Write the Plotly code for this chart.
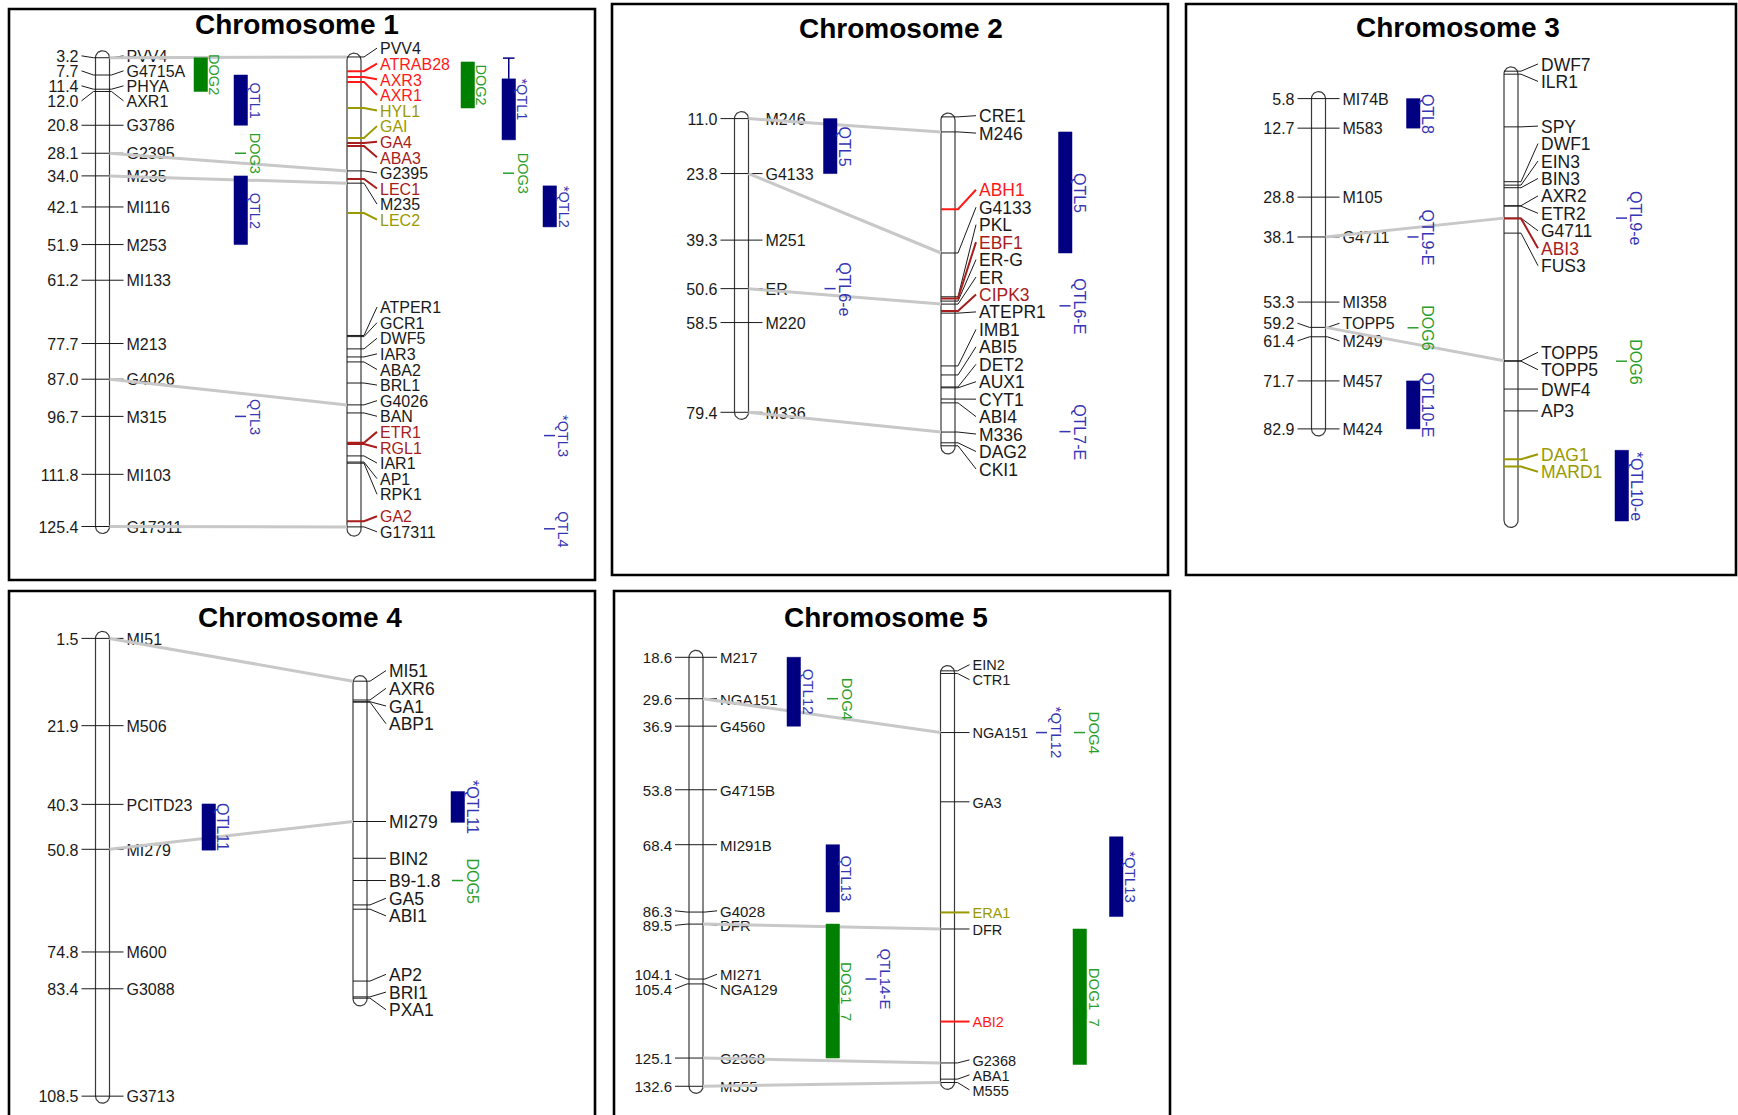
import numpy as np
import plotly.graph_objects as go

FIG_W, FIG_H = 1738, 1115
FONT = "Liberation Sans, Arial, Helvetica, sans-serif"

# ======================================================================
# Chromosome 1
# ======================================================================
CHR1_MAP_NAMES = ["PVV4", "G4715A", "PHYA", "AXR1", "G3786", "G2395", "M235", "MI116",
                  "M253", "MI133", "M213", "G4026", "M315", "MI103", "G17311"]
CHR1_MAP_CM = [3.2, 7.7, 11.4, 12.0, 20.8, 28.1, 34.0, 42.1, 51.9, 61.2, 77.7, 87.0,
               96.7, 111.8, 125.4]
CHR1_GENE_NAMES = ["PVV4", "ATRAB28", "AXR3", "AXR1", "HYL1", "GAI", "GA4", "ABA3",
                   "G2395", "LEC1", "M235", "LEC2", "ATPER1", "GCR1", "DWF5", "IAR3",
                   "ABA2", "BRL1", "G4026", "BAN", "ETR1", "RGL1", "IAR1", "AP1", "RPK1",
                   "GA2", "G17311"]
CHR1_GENE_CM = [3.0, 6.7, 8.2, 9.5, 16.3, 24.1, 25.4, 26.2, 32.7, 34.8, 35.9, 43.7,
                75.6, 75.9, 79.1, 81.2, 82.5, 88.0, 93.7, 95.8, 103.6, 103.9, 107.0,
                108.6, 108.9, 124.0, 125.5]
CHR1_GENE_GROUP = [0, 1, 1, 1, 3, 3, 2, 2, 0, 2, 0, 3, 0, 0, 0, 0, 0, 0, 0, 0, 2, 2,
                   0, 0, 0, 2, 0]
CHR1_GENE_SPAN = [2.0, 127.9]
CHR1_LINKS = [("PVV4", "PVV4"), ("G2395", "G2395"), ("M235", "M235"),
              ("G4026", "G4026"), ("G17311", "G17311")]
CHR1_QTL_L_NAMES = ["DOG2", "QTL1", "DOG3", "QTL2", "QTL3"]
CHR1_QTL_L_FROM = [3.2, 7.7, 28.1, 34.0, 96.7]
CHR1_QTL_L_TO = [12.0, 20.8, 28.1, 51.9, 96.7]
CHR1_QTL_R_NAMES = ["DOG2", "*QTL1", "DOG3", "*QTL2", "*QTL3", "QTL4"]
CHR1_QTL_R_FROM = [4.3, 8.7, 33.3, 36.6, 101.7, 126.0]
CHR1_QTL_R_TO = [16.3, 24.6, 33.3, 47.3, 101.7, 126.0]
CHR1_QTL_R_CI_FROM = [None, 3.3, None, None, None, None]

# ======================================================================
# Chromosome 2
# ======================================================================
CHR2_MAP_NAMES = ["M246", "G4133", "M251", "ER", "M220", "M336"]
CHR2_MAP_CM = [11.0, 23.8, 39.3, 50.6, 58.5, 79.4]
CHR2_GENE_NAMES = ["CRE1", "M246", "ABH1", "G4133", "PKL", "EBF1", "ER-G", "ER", "CIPK3",
                   "ATEPR1", "IMB1", "ABI5", "DET2", "AUX1", "CYT1", "ABI4", "M336",
                   "DAG2", "CKI1"]
CHR2_GENE_CM = [10.6, 14.1, 32.1, 42.3, 52.5, 52.9, 53.5, 54.2, 55.8, 56.3, 68.6, 70.7,
                73.5, 73.7, 76.3, 77.2, 84.0, 86.5, 87.2]
CHR2_GENE_GROUP = [0, 0, 1, 0, 0, 2, 0, 0, 2, 0, 0, 0, 0, 0, 0, 0, 0, 0, 0]
CHR2_GENE_SPAN = [9.7, 89.1]
CHR2_LINKS = [("M246", "M246"), ("G4133", "G4133"), ("ER", "ER"), ("M336", "M336")]
CHR2_QTL_L_NAMES = ["QTL5", "QTL6-e"]
CHR2_QTL_L_FROM = [11.0, 50.6]
CHR2_QTL_L_TO = [23.8, 50.6]
CHR2_QTL_R_NAMES = ["QTL5", "QTL6-E", "QTL7-E"]
CHR2_QTL_R_FROM = [14.1, 54.6, 83.9]
CHR2_QTL_R_TO = [42.3, 54.6, 83.9]

# ======================================================================
# Chromosome 3
# ======================================================================
CHR3_MAP_NAMES = ["MI74B", "M583", "M105", "G4711", "MI358", "TOPP5", "M249", "M457", "M424"]
CHR3_MAP_CM = [5.8, 12.7, 28.8, 38.1, 53.3, 59.2, 61.4, 71.7, 82.9]
CHR3_GENE_NAMES = ["DWF7", "ILR1", "SPY", "DWF1", "EIN3", "BIN3", "AXR2", "ETR2", "G4711",
                   "ABI3", "FUS3", "TOPP5", "TOPP5", "DWF4", "AP3", "DAG1", "MARD1"]
CHR3_GENE_CM = [-0.6, 0.1, 12.4, 25.2, 26.0, 26.6, 30.8, 30.9, 33.7, 33.8, 37.2, 67.0,
                67.1, 73.6, 78.7, 90.0, 91.7]
CHR3_GENE_GROUP = [0, 0, 0, 0, 0, 0, 0, 0, 0, 2, 0, 0, 0, 0, 0, 3, 3]
CHR3_GENE_SPAN = [-1.6, 105.9]
CHR3_LINKS = [("G4711", "G4711"), ("TOPP5", "TOPP5")]
CHR3_QTL_L_NAMES = ["QTL8", "QTL9-E", "DOG6", "QTL10-E"]
CHR3_QTL_L_FROM = [5.8, 38.1, 59.3, 71.7]
CHR3_QTL_L_TO = [12.7, 38.1, 59.3, 82.9]
CHR3_QTL_R_NAMES = ["QTL9-e", "DOG6", "*QTL10-e"]
CHR3_QTL_R_FROM = [33.7, 67.1, 87.9]
CHR3_QTL_R_TO = [33.7, 67.1, 104.4]

# ======================================================================
# Chromosome 4
# ======================================================================
CHR4_MAP_NAMES = ["MI51", "M506", "PCITD23", "MI279", "M600", "G3088", "G3713"]
CHR4_MAP_CM = [1.5, 21.9, 40.3, 50.8, 74.8, 83.4, 108.5]
CHR4_GENE_NAMES = ["MI51", "AXR6", "GA1", "ABP1", "MI279", "BIN2", "B9-1.8", "GA5", "ABI1",
                   "AP2", "BRI1", "PXA1"]
CHR4_GENE_CM = [11.5, 15.9, 16.3, 16.4, 44.3, 52.9, 58.1, 63.8, 64.8, 81.6, 85.3, 85.6]
CHR4_GENE_GROUP = [0] * 12
CHR4_GENE_SPAN = [10.2, 87.4]
CHR4_LINKS = [("MI51", "MI51"), ("MI279", "MI279")]
CHR4_QTL_L_NAMES = ["QTL11"]
CHR4_QTL_L_FROM = [40.2]
CHR4_QTL_L_TO = [51.0]
CHR4_QTL_R_NAMES = ["*QTL11", "DOG5"]
CHR4_QTL_R_FROM = [37.3, 58.1]
CHR4_QTL_R_TO = [44.5, 58.1]

# ======================================================================
# Chromosome 5
# ======================================================================
CHR5_MAP_NAMES = ["M217", "NGA151", "G4560", "G4715B", "MI291B", "G4028", "DFR", "MI271",
                  "NGA129", "G2368", "M555"]
CHR5_MAP_CM = [18.6, 29.6, 36.9, 53.8, 68.4, 86.3, 89.5, 104.1, 105.4, 125.1, 132.6]
CHR5_GENE_NAMES = ["EIN2", "CTR1", "NGA151", "GA3", "ERA1", "DFR", "ABI2", "G2368",
                   "ABA1", "M555"]
CHR5_GENE_CM = [22.2, 22.9, 38.6, 57.0, 86.4, 90.8, 115.4, 126.4, 130.7, 131.6]
CHR5_GENE_GROUP = [0, 0, 0, 0, 3, 0, 1, 0, 0, 0]
CHR5_GENE_SPAN = [20.8, 133.4]
CHR5_LINKS = [("NGA151", "NGA151"), ("DFR", "DFR"), ("G2368", "G2368"), ("M555", "M555")]
CHR5_QTL_L_NAMES = ["QTL12", "DOG4", "QTL13", "DOG1_7", "QTL14-E"]
CHR5_QTL_L_FROM = [18.6, 29.6, 68.4, 89.5, 104.1]
CHR5_QTL_L_TO = [36.9, 29.6, 86.3, 125.1, 104.1]
CHR5_QTL_R_NAMES = ["*QTL12", "DOG4", "*QTL13", "DOG1_7"]
CHR5_QTL_R_FROM = [38.6, 38.6, 66.3, 90.8]
CHR5_QTL_R_TO = [38.6, 38.6, 87.5, 126.8]

# ======================================================================
# styling
# ======================================================================
GROUP_COLOR = {0: "#1a1a1a", 1: "#ff1a1a", 2: "#a81c1c", 3: "#9a9a00"}
GROUP_WIDTH = {0: 1.0, 1: 2.0, 2: 2.0, 3: 2.0}
QTL_BAR = "#000080"
DOG_BAR = "#008000"
QTL_TXT = "#3434b4"
DOG_TXT = "#2a9e2a"
LINK_COLOR = "#c8c8c8"
OUTLINE = "#3a3a3a"
HALF = 7.0      # half width of a chromosome, px
BAR_W = 13.5    # QTL bar width, px
TEXT_DROP = 2.2  # px, centres the glyphs of a label on its leader line
TOP_PAD = 5.0    # px a gene label may sit above the chromosome end
BOTTOM_PAD = 15.0

# per panel layout: frame (x0, y0, x1, y1) in px, cM calibration (cM, px, px per cM)
PANELS = [
    dict(title="Chromosome 1", frame=(9, 9, 595, 580), title_xy=(297, 25), cal=(20.8, 125.25, 3.836),
         map=(CHR1_MAP_NAMES, CHR1_MAP_CM), genes=(CHR1_GENE_NAMES, CHR1_GENE_CM, CHR1_GENE_GROUP),
         span=CHR1_GENE_SPAN, links=CHR1_LINKS,
         left=dict(xc=102.5, font=16, gap=15.0),
         right=dict(xc=354, font=16, gap=15.6, lg=19),
         qtl_l=(CHR1_QTL_L_NAMES, CHR1_QTL_L_FROM, CHR1_QTL_L_TO, None, [0, 1, 1, 1, 1]),
         qtl_r=(CHR1_QTL_R_NAMES, CHR1_QTL_R_FROM, CHR1_QTL_R_TO, CHR1_QTL_R_CI_FROM, [0, 1, 1, 2, 2, 2]),
         cols_l=[194, 234], cols_r=[461, 502, 543], qfont=14.5),
    dict(title="Chromosome 2", frame=(612, 4, 1168, 575), title_xy=(901, 29), cal=(11.0, 118.6, 4.294),
         map=(CHR2_MAP_NAMES, CHR2_MAP_CM), genes=(CHR2_GENE_NAMES, CHR2_GENE_CM, CHR2_GENE_GROUP),
         span=CHR2_GENE_SPAN, links=CHR2_LINKS,
         left=dict(xc=741.5, font=16, gap=15.0),
         right=dict(xc=948, font=17.5, gap=17.45, lg=24),
         qtl_l=(CHR2_QTL_L_NAMES, CHR2_QTL_L_FROM, CHR2_QTL_L_TO, None, [0, 0]),
         qtl_r=(CHR2_QTL_R_NAMES, CHR2_QTL_R_FROM, CHR2_QTL_R_TO, None, [0, 0, 0]),
         cols_l=[823.5], cols_r=[1058.5], qfont=16),
    dict(title="Chromosome 3", frame=(1186, 4, 1736, 575), title_xy=(1458, 27), cal=(5.8, 98.6, 4.284),
         map=(CHR3_MAP_NAMES, CHR3_MAP_CM), genes=(CHR3_GENE_NAMES, CHR3_GENE_CM, CHR3_GENE_GROUP),
         span=CHR3_GENE_SPAN, links=CHR3_LINKS,
         left=dict(xc=1318.5, font=16, gap=17.7),
         right=dict(xc=1511, font=17.5, gap=17.45, lg=23),
         qtl_l=(CHR3_QTL_L_NAMES, CHR3_QTL_L_FROM, CHR3_QTL_L_TO, None, [0, 0, 0, 0]),
         qtl_r=(CHR3_QTL_R_NAMES, CHR3_QTL_R_FROM, CHR3_QTL_R_TO, None, [0, 0, 0]),
         cols_l=[1406.5], cols_r=[1615], qfont=16),
    dict(title="Chromosome 4", frame=(9, 591, 595, 1115), title_xy=(300, 617), cal=(1.5, 638.4, 4.278),
         map=(CHR4_MAP_NAMES, CHR4_MAP_CM), genes=(CHR4_GENE_NAMES, CHR4_GENE_CM, CHR4_GENE_GROUP),
         span=CHR4_GENE_SPAN, links=CHR4_LINKS,
         left=dict(xc=102.5, font=16, gap=15.0),
         right=dict(xc=360, font=17.5, gap=17.7, lg=22),
         qtl_l=(CHR4_QTL_L_NAMES, CHR4_QTL_L_FROM, CHR4_QTL_L_TO, None, [0]),
         qtl_r=(CHR4_QTL_R_NAMES, CHR4_QTL_R_FROM, CHR4_QTL_R_TO, None, [0, 0]),
         cols_l=[202], cols_r=[451], qfont=16, open_bottom=True),
    dict(title="Chromosome 5", frame=(614, 591, 1170, 1115), title_xy=(886, 617), cal=(18.6, 657.3, 3.763),
         map=(CHR5_MAP_NAMES, CHR5_MAP_CM), genes=(CHR5_GENE_NAMES, CHR5_GENE_CM, CHR5_GENE_GROUP),
         span=CHR5_GENE_SPAN, links=CHR5_LINKS,
         left=dict(xc=696, font=15, gap=14.5),
         right=dict(xc=947.5, font=14.5, gap=15.0, lg=18),
         qtl_l=(CHR5_QTL_L_NAMES, CHR5_QTL_L_FROM, CHR5_QTL_L_TO, None, [0, 1, 1, 1, 2]),
         qtl_r=(CHR5_QTL_R_NAMES, CHR5_QTL_R_FROM, CHR5_QTL_R_TO, None, [0, 1, 2, 1]),
         cols_l=[787, 826, 864.5], cols_r=[1035, 1073, 1109.5], qfont=15, open_bottom=True),
]


def spread(px, gap, lo=-1e9, hi=1e9):
    """Push overlapping labels apart so that neighbours are at least `gap` px apart."""
    order = sorted(range(len(px)), key=lambda i: (px[i], i))

    def place(members):
        n = len(members)
        start = sum(px[i] for i in members) / n - (n - 1) * gap / 2.0
        start = min(start, hi - (n - 1) * gap)
        return max(start, lo)

    clusters = []
    for i in order:
        cur = [i]
        s = place(cur)
        while clusters and clusters[-1][1] + len(clusters[-1][0]) * gap > s + 1e-9:
            prev, _ = clusters.pop()
            cur = prev + cur
            s = place(cur)
        clusters.append((cur, s))
    out = [0.0] * len(px)
    for members, s in clusters:
        for k, i in enumerate(members):
            out[i] = s + k * gap
    return out


def outline(xc, top, bottom, S, n=28):
    r = HALF / S
    t1 = np.linspace(np.pi, 2 * np.pi, n)
    t2 = np.linspace(0, np.pi, n)
    xs = list(xc + HALF * np.cos(t1)) + list(xc + HALF * np.cos(t2))
    ys = list(bottom - r - r * np.sin(t1)) + list(top + r - r * np.sin(t2))
    xs.append(xs[0])
    ys.append(ys[0])
    return xs, ys


fig = go.Figure()
annotations = []
shapes = []
layout_axes = {}

for idx, P in enumerate(PANELS, start=1):
    xid = "x" if idx == 1 else f"x{idx}"
    yid = "y" if idx == 1 else f"y{idx}"
    x0, y0, x1, y1 = P["frame"]
    C0, Y0, S = P["cal"]

    def to_px(c):
        return Y0 + (c - C0) * S

    def to_cm(p):
        return C0 + (p - Y0) / S

    layout_axes["xaxis" + ("" if idx == 1 else str(idx))] = dict(
        domain=[x0 / FIG_W, x1 / FIG_W], range=[x0, x1], visible=False,
        fixedrange=True, anchor=yid)
    layout_axes["yaxis" + ("" if idx == 1 else str(idx))] = dict(
        domain=[max(0.0, 1 - y1 / FIG_H), 1 - y0 / FIG_H], range=[to_cm(y1), to_cm(y0)],
        visible=False, fixedrange=True, anchor=xid)

    def add(trace):
        trace.update(xaxis=xid, yaxis=yid, hoverinfo="skip", showlegend=False)
        fig.add_trace(trace)

    # panel frame and title
    shapes.append(dict(type="rect", xref=f"{xid} domain", yref=f"{yid} domain",
                       x0=0, x1=1, y0=-0.05 if P.get("open_bottom") else 0, y1=1,
                       line=dict(color="black", width=2.6), layer="above"))
    annotations.append(dict(x=P["title_xy"][0] / FIG_W, y=1 - P["title_xy"][1] / FIG_H,
                            xref="paper", yref="paper", showarrow=False,
                            text=f"<b>{P['title']}</b>", xanchor="center", yanchor="middle",
                            font=dict(family=FONT, size=28, color="black")))

    # ---------------- genetic map (left chromosome) ----------------
    mnames, mcm = P["map"]
    L = P["left"]
    lxl, lxr = L["xc"] - HALF, L["xc"] + HALF
    r_cm = HALF / S
    bx, by = outline(L["xc"], mcm[0] - r_cm, mcm[-1] + r_cm, S)
    add(go.Scatter(x=bx, y=by, mode="lines", fill="toself", fillcolor="white",
                   line=dict(color=OUTLINE, width=1.2)))
    lab_px = spread([to_px(c) for c in mcm], L["gap"])
    lab_cm = [to_cm(p) for p in lab_px]
    txt_cm = [to_cm(p + TEXT_DROP) for p in lab_px]
    tx, ty = [], []
    for c, lc in zip(mcm, lab_cm):
        tx += [lxl - 14, lxl - 2, lxr + 2, lxr + 14, None]
        ty += [lc, c, c, lc, None]
    add(go.Scatter(x=tx, y=ty, mode="lines", line=dict(color="#1a1a1a", width=1)))
    add(go.Scatter(x=[lxl - 17] * len(mcm), y=txt_cm, mode="text",
                   text=[f"{c:.1f}" for c in mcm], textposition="middle left",
                   textfont=dict(family=FONT, size=L["font"], color="#1a1a1a")))
    add(go.Scatter(x=[lxr + 17] * len(mcm), y=txt_cm, mode="text", text=mnames,
                   textposition="middle right",
                   textfont=dict(family=FONT, size=L["font"], color="#1a1a1a")))

    # ---------------- gene map (right chromosome) ----------------
    gnames, gcm, ggroup = P["genes"]
    R = P["right"]
    rxl, rxr = R["xc"] - HALF, R["xc"] + HALF
    top, bottom = P["span"]
    bx, by = outline(R["xc"], top, bottom, S)
    add(go.Scatter(x=bx, y=by, mode="lines", fill="toself", fillcolor="white",
                   line=dict(color=OUTLINE, width=1.2)))
    g_px = spread([to_px(c) for c in gcm], R["gap"],
                  lo=to_px(top) - TOP_PAD, hi=to_px(bottom) + BOTTOM_PAD)
    glab = [to_cm(p) for p in g_px]
    gtxt = [to_cm(p + TEXT_DROP) for p in g_px]
    for grp in sorted(set(ggroup)):
        tx, ty = [], []
        for c, lc, g in zip(gcm, glab, ggroup):
            if g != grp:
                continue
            tx += [rxl, rxr + 3, rxr + R["lg"] - 3, None]
            ty += [c, c, lc, None]
        add(go.Scatter(x=tx, y=ty, mode="lines",
                       line=dict(color=GROUP_COLOR[grp], width=GROUP_WIDTH[grp])))
    add(go.Scatter(x=[rxr + R["lg"]] * len(gcm), y=gtxt, mode="text", text=gnames,
                   textposition="middle right",
                   textfont=dict(family=FONT, size=R["font"],
                                 color=[GROUP_COLOR[g] for g in ggroup])))

    # ---------------- links between shared markers ----------------
    lx, ly = [], []
    for a, b in P["links"]:
        lx += [lxr, rxl, None]
        ly += [mcm[mnames.index(a)], gcm[gnames.index(b)], None]
    add(go.Scatter(x=lx, y=ly, mode="lines", line=dict(color=LINK_COLOR, width=3)))

    # ---------------- QTL / DOG intervals ----------------
    for (names, lo, hi, ci, tracks), cols in ((P["qtl_l"], P["cols_l"]), (P["qtl_r"], P["cols_r"])):
        for k, (nm, a, b, t) in enumerate(zip(names, lo, hi, tracks)):
            cx = cols[t]
            dog = nm.startswith("DOG")
            bar_c = DOG_BAR if dog else QTL_BAR
            txt_c = DOG_TXT if dog else QTL_TXT
            lo_ci = ci[k] if ci is not None else None
            if b > a:
                add(go.Scatter(x=[cx, cx + BAR_W, cx + BAR_W, cx, cx], y=[a, a, b, b, a],
                               mode="lines", fill="toself", fillcolor=bar_c,
                               line=dict(color=bar_c, width=0.5)))
            else:
                add(go.Scatter(x=[cx + 1, cx + 12], y=[a, a], mode="lines",
                               line=dict(color=txt_c, width=1.5)))
            mid = (a + b) / 2.0
            if lo_ci is not None:
                xm = cx + BAR_W / 2.0
                add(go.Scatter(x=[xm, xm, None, cx + 1, cx + BAR_W - 1], y=[a, lo_ci, None, lo_ci, lo_ci],
                               mode="lines", line=dict(color=QTL_BAR, width=1.5)))
                mid = (lo_ci + b) / 2.0
            annotations.append(dict(x=cx + BAR_W - 2, y=mid, xref=xid, yref=yid, text=nm,
                                    textangle=90, showarrow=False, xanchor="left",
                                    yanchor="middle", borderpad=0,
                                    font=dict(family=FONT, size=P["qfont"], color=txt_c)))

fig.update_layout(
    width=FIG_W, height=FIG_H, margin=dict(l=0, r=0, t=0, b=0),
    paper_bgcolor="white", plot_bgcolor="white", showlegend=False,
    annotations=annotations, shapes=shapes, **layout_axes)

fig.write_html("out.html")
